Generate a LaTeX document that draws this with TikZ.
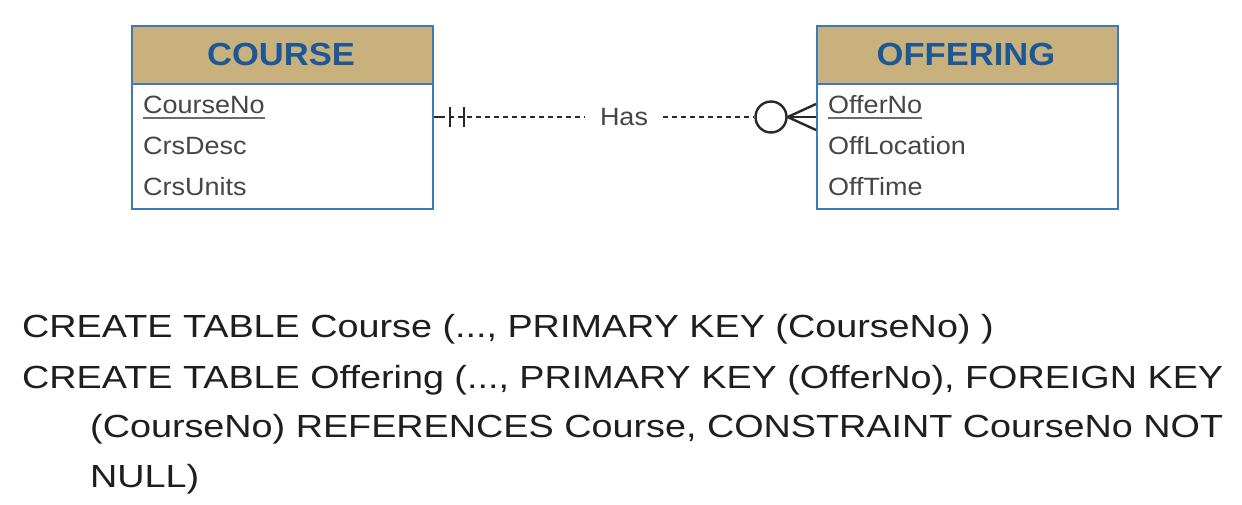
\documentclass[tikz,border=0pt]{standalone}
\usepackage{fontspec}
\setmainfont{Liberation Sans}
\newfontfamily\sqlfont[FakeStretch=1.18]{Liberation Sans}
\newfontfamily\attrfont[FakeStretch=1.08]{Liberation Sans}
\definecolor{headfill}{RGB}{201,177,125}
\definecolor{titleblue}{RGB}{28,88,150}
\definecolor{boxblue}{RGB}{62,122,184}
\definecolor{attrgray}{RGB}{70,70,70}
\definecolor{linedark}{RGB}{40,40,40}
\definecolor{sqlblack}{RGB}{30,30,30}
\tikzset{
  headbox/.style={draw=boxblue, line width=2pt, fill=headfill, minimum width=301pt, minimum height=58pt, inner sep=0pt, anchor=north west},
  bodybox/.style={draw=boxblue, line width=2pt, fill=white, minimum width=301pt, minimum height=125pt, inner sep=0pt, anchor=north west},
  titletext/.style={text=titleblue, font=\attrfont\fontsize{32}{36}\selectfont\bfseries, inner sep=0pt, anchor=base},
  attr/.style={text=attrgray, font=\attrfont\fontsize{25}{28}\selectfont, inner sep=0pt, anchor=base west},
  ul/.style={draw=attrgray!80, line width=1.4pt},
  conn/.style={draw=linedark, line width=2.4pt},
  dashconn/.style={conn, line width=2.2pt, dash pattern=on 5pt off 4pt},
  sql/.style={text=sqlblack, font=\sqlfont\fontsize{32}{36}\selectfont, inner sep=0pt, anchor=base west},
}
\begin{document}
\begin{tikzpicture}[x=1pt,y=-1pt]
\useasboundingbox[fill=white] (0,0) rectangle (1242,504);
% COURSE entity
\node[headbox] (coursehead) at (131,25) {};
\node[bodybox] (course) at (131,83) {};
\node[titletext] (coursetitle) at (281,65) {COURSE};
\node[attr] (cno) at (143,113) {CourseNo};
\node[attr] (cdesc) at (143,154) {CrsDesc};
\node[attr] (cunits) at (143,195) {CrsUnits};
\draw[ul] ([yshift=-5pt]cno.base west) -- ([yshift=-5pt]cno.base east);
% OFFERING entity
\node[headbox] (offerhead) at (816,25) {};
\node[bodybox] (offering) at (816,83) {};
\node[titletext] (offertitle) at (966,65) {OFFERING};
\node[attr] (ono) at (828,113) {OfferNo};
\node[attr] (oloc) at (828,154) {OffLocation};
\node[attr] (otime) at (828,195) {OffTime};
\draw[ul] ([yshift=-5pt]ono.base west) -- ([yshift=-5pt]ono.base east);
% relationship
\node[text=attrgray, font=\attrfont\fontsize{25}{28}\selectfont, inner sep=0pt] (has) at (624,117) {Has};
\coordinate (cend) at (course.east |- has);
\coordinate (oend) at (offering.west |- has);
\node[draw=linedark, line width=2.4pt, circle, minimum size=31pt, inner sep=0pt] (opt) at (771,117) {};
\draw[conn] (cend) -- ++(6,0);
\draw[dashconn] ([xshift=6pt]cend) -- ([xshift=-15pt]has.west);
\draw[conn] ([xshift=16pt,yshift=-10pt]cend) -- ([xshift=16pt,yshift=10pt]cend);
\draw[conn] ([xshift=30pt,yshift=-10pt]cend) -- ([xshift=30pt,yshift=10pt]cend);
\draw[dashconn] ([xshift=15pt]has.east) -- (opt.west);
\draw[conn] (opt.east) -- ([yshift=-13pt]oend);
\draw[conn] (opt.east) -- (oend);
\draw[conn] (opt.east) -- ([yshift=13pt]oend);
% SQL text
\node[sql] (sql1) at (22,337) {CREATE TABLE Course (..., PRIMARY KEY (CourseNo) )};
\node[sql] (sql2) at (22,388) {CREATE TABLE Offering (..., PRIMARY KEY (OfferNo), FOREIGN KEY};
\node[sql] (sql3) at (90,437) {(CourseNo) REFERENCES Course, CONSTRAINT CourseNo NOT};
\node[sql] (sql4) at (90,487) {NULL)};
\end{tikzpicture}
\end{document}
